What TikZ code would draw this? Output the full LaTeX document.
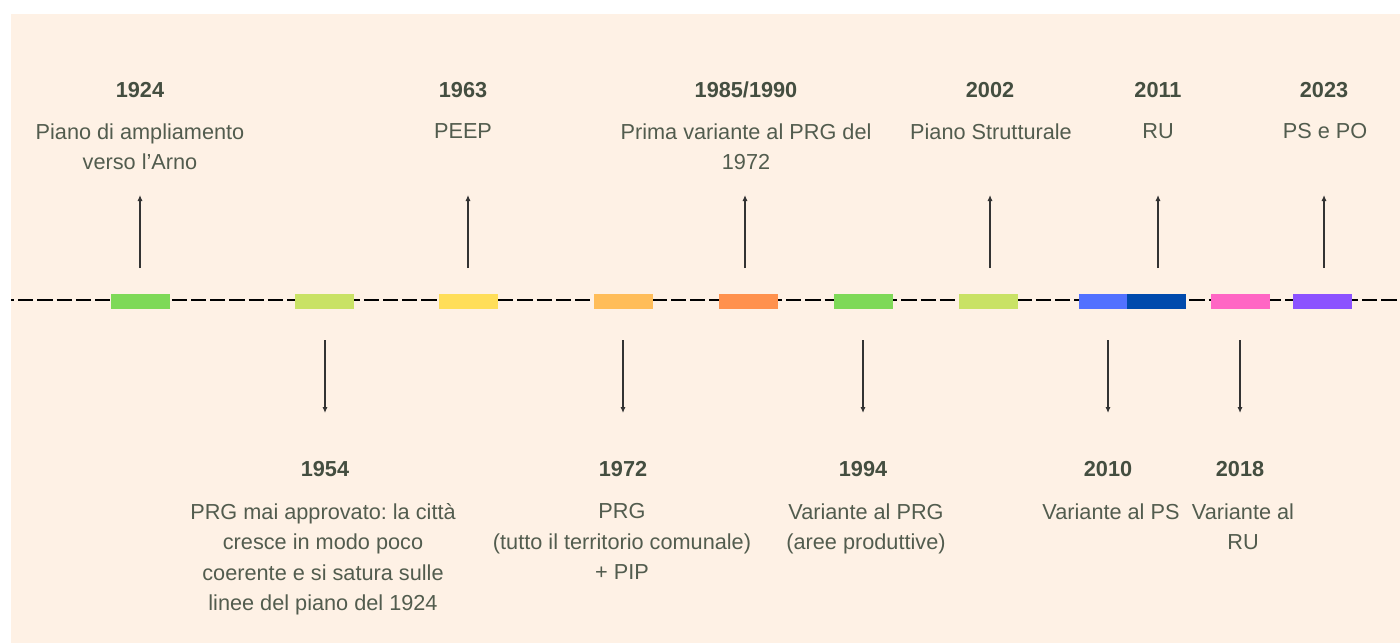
\documentclass[tikz,border=0pt]{standalone}
\usepackage{fontspec}
\setmainfont{Liberation Sans}
\usetikzlibrary{arrows.meta}
\frenchspacing

\definecolor{bgpeach}{RGB}{254,241,229}
\definecolor{txtgray}{RGB}{82,92,78}
\definecolor{yeargray}{RGB}{68,78,64}
\definecolor{cgreen}{RGB}{126,217,87}
\definecolor{clime}{RGB}{201,226,101}
\definecolor{cyellow}{RGB}{255,222,89}
\definecolor{capricot}{RGB}{255,189,89}
\definecolor{corange}{RGB}{255,145,77}
\definecolor{cblue}{RGB}{82,113,255}
\definecolor{cnavy}{RGB}{0,74,173}
\definecolor{cpink}{RGB}{255,102,196}
\definecolor{cviolet}{RGB}{140,82,255}

\begin{document}
\begin{tikzpicture}[x=0.5pt, y=-0.5pt,
      every node/.style={inner sep=0pt, font=\fontsize{10.85}{15.25}\selectfont},
      year/.style={anchor=base, text=yeargray, font=\fontsize{10.85}{15.25}\selectfont\bfseries},
      desc/.style={anchor=north, align=center, text=txtgray},
      bar/.style={rectangle, minimum width=29.5pt, minimum height=7.5pt},
      timeline/.style={line width=1.4pt, dash pattern=on 7.6pt off 2pt, dash phase=6pt},
      arr/.style={line width=0.6pt, black!80, -{Latex[length=3pt,width=2.6pt]}}]
    \useasboundingbox (0,0) rectangle (1400,643);
    \fill[bgpeach] (11,14) rectangle (1400,643);

    % linea del tempo
    \coordinate (tl0) at (11,300);
    \coordinate (tl1) at (1400,300);
    \draw[timeline] (tl0) -- (tl1);

    % barre colorate
    \node[bar, fill=cgreen]   (b1924) at (140,301) {};
    \node[bar, fill=clime]    (b1954) at (324,301) {};
    \node[bar, fill=cyellow]  (b1963) at (468,301) {};
    \node[bar, fill=capricot] (b1972) at (623,301) {};
    \node[bar, fill=corange]  (b1985) at (748,301) {};
    \node[bar, fill=cgreen]   (b1994) at (863,301) {};
    \node[bar, fill=clime]    (b2002) at (988,301) {};
    \node[bar, fill=cblue]    (b2010) at (1108,301) {};
    \node[bar, fill=cnavy]    (b2011) at (1156,301) {};
    \node[bar, fill=cpink]    (b2018) at (1240,301) {};
    \node[bar, fill=cviolet]  (b2023) at (1322,301) {};

    % sopra la linea
    \node[year] (y1924) at (140,97) {1924};
    \node[desc] (d1924) at (140,123) {Piano di ampliamento\\verso l’Arno};
    \node[year] (y1963) at (463,97) {1963};
    \node[desc] (d1963) at (463,123) {PEEP};
    \node[year] (y1985) at (746,97) {1985/1990};
    \node[desc] (d1985) at (746,123) {Prima variante al PRG del\\1972};
    \node[year] (y2002) at (990,97) {2002};
    \node[desc] (d2002) at (991,123) {Piano Strutturale};
    \node[year] (y2011) at (1158,97) {2011};
    \node[desc] (d2011) at (1158,123) {RU};
    \node[year] (y2023) at (1324,97) {2023};
    \node[desc] (d2023) at (1325,123) {PS e PO};

    % sotto la linea
    \node[year] (y1954) at (325,476) {1954};
    \node[desc] (d1954) at (323,503) {PRG mai approvato: la città\\cresce in modo poco\\coerente e si satura sulle\\linee del piano del 1924};
    \node[year] (y1972) at (623,476) {1972};
    \node[desc] (d1972) at (622,503) {PRG\\(tutto il territorio comunale)\\+ PIP};
    \node[year] (y1994) at (863,476) {1994};
    \node[desc] (d1994) at (866,503) {Variante al PRG\\(aree produttive)};
    \node[year] (y2010) at (1108,476) {2010};
    \node[desc] (d2010) at (1111,503) {Variante al PS};
    \node[year] (y2018) at (1240,476) {2018};
    \node[desc] (d2018) at (1243,503) {Variante al\\RU};

    % frecce verso l'alto
    \coordinate (s1924) at (140,268);  \coordinate (e1924) at (140,195);
    \coordinate (s1963) at (468,268);  \coordinate (e1963) at (468,195);
    \coordinate (s1985) at (745,268);  \coordinate (e1985) at (745,195);
    \coordinate (s2002) at (990,268);  \coordinate (e2002) at (990,195);
    \coordinate (s2011) at (1158,268); \coordinate (e2011) at (1158,195);
    \coordinate (s2023) at (1324,268); \coordinate (e2023) at (1324,195);
    \draw[arr] (s1924) -- (e1924);
    \draw[arr] (s1963) -- (e1963);
    \draw[arr] (s1985) -- (e1985);
    \draw[arr] (s2002) -- (e2002);
    \draw[arr] (s2011) -- (e2011);
    \draw[arr] (s2023) -- (e2023);

    % frecce verso il basso
    \coordinate (s1954) at (325,340);  \coordinate (e1954) at (325,413);
    \coordinate (s1972) at (623,340);  \coordinate (e1972) at (623,413);
    \coordinate (s1994) at (863,340);  \coordinate (e1994) at (863,413);
    \coordinate (s2010) at (1108,340); \coordinate (e2010) at (1108,413);
    \coordinate (s2018) at (1240,340); \coordinate (e2018) at (1240,413);
    \draw[arr] (s1954) -- (e1954);
    \draw[arr] (s1972) -- (e1972);
    \draw[arr] (s1994) -- (e1994);
    \draw[arr] (s2010) -- (e2010);
    \draw[arr] (s2018) -- (e2018);
\end{tikzpicture}
\end{document}
